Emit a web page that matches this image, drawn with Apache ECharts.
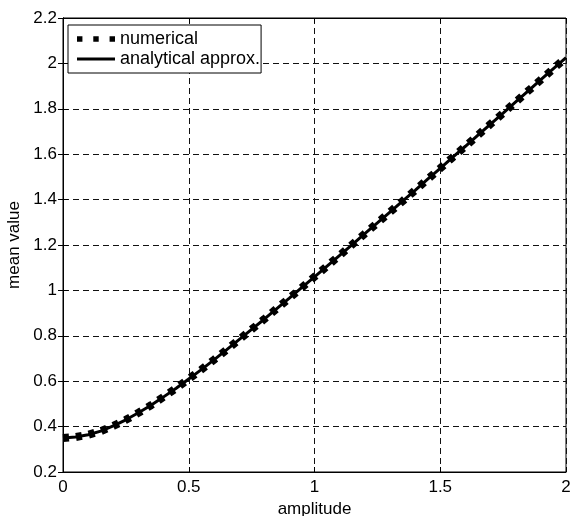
<!DOCTYPE html>
<html>
<head>
<meta charset="utf-8">
<script src="https://cdn.jsdelivr.net/npm/echarts@6/dist/echarts.min.js"></script>
<style>
  html, body { margin: 0; padding: 0; background: #fff; }
  #chart { width: 571px; height: 516px; }
</style>
</head>
<body>
<div id="chart"></div>
<script>
// amplitude samples, step 0.05
const amplitude = [
  0, 0.05, 0.1, 0.15, 0.2, 0.25, 0.3, 0.35, 0.4, 0.45,
  0.5, 0.55, 0.6, 0.65, 0.7, 0.75, 0.8, 0.85, 0.9, 0.95,
  1.0, 1.05, 1.1, 1.15, 1.2, 1.25, 1.3, 1.35, 1.4, 1.45,
  1.5, 1.55, 1.6, 1.65, 1.7, 1.75, 1.8, 1.85, 1.9, 1.95, 2.0
]
// numerical result
const numerical = [
  0.350, 0.354, 0.364, 0.380, 0.403, 0.430, 0.461, 0.494, 0.531, 0.569,
  0.610, 0.651, 0.694, 0.738, 0.783, 0.828, 0.873, 0.920, 0.966, 1.013,
  1.060, 1.107, 1.154, 1.202, 1.250, 1.297, 1.345, 1.393, 1.441, 1.490,
  1.538, 1.587, 1.635, 1.684, 1.733, 1.781, 1.830, 1.879, 1.928, 1.977, 2.025
]
// analytical approximation, overlaps numerical
const analytical = [
  0.350, 0.354, 0.364, 0.380, 0.403, 0.430, 0.461, 0.494, 0.531, 0.569,
  0.610, 0.651, 0.694, 0.738, 0.783, 0.828, 0.873, 0.920, 0.966, 1.013,
  1.060, 1.107, 1.154, 1.202, 1.250, 1.297, 1.345, 1.393, 1.441, 1.490,
  1.538, 1.587, 1.635, 1.684, 1.733, 1.781, 1.830, 1.879, 1.928, 1.977, 2.025
]
const seriesNames = ['numerical', 'analytical approx.']

const font = 'Liberation Sans, Arial, sans-serif'
const fs = 17
const pair = (ys) => amplitude.map((x, i) => [x, ys[i]])

const chart = echarts.init(document.getElementById('chart'))

const gridDash = { color: '#111', type: [6, 4], width: 1 }
const tick = { show: true, inside: true, length: 5, lineStyle: { color: '#000' } }

chart.setOption({
  animation: false,
  backgroundColor: '#fff',
  textStyle: { fontFamily: font },
  grid: {
    left: 63, right: 5, top: 18, bottom: 44,
    outerBoundsMode: 'none',
    containLabel: false,
    show: true, borderColor: '#000', borderWidth: 1,
  },
  legend: {
    orient: 'vertical',
    left: 68, top: 25,
    backgroundColor: '#fff',
    borderColor: '#000',
    borderWidth: 1,
    padding: [5, 1, 5, 9],
    itemGap: 2,
    itemWidth: 38,
    itemHeight: 18,
    symbolKeepAspect: true,
    textStyle: { fontFamily: font, fontSize: 18, color: '#000' },
    data: [
      { name: seriesNames[0], icon: 'path://M0,0h5v5h-5z M15,0h5v5h-5z M30,0h5v5h-5z' },
      { name: seriesNames[1], icon: 'path://M0,0h38v3h-38z' },
    ],
  },
  xAxis: [{
    type: 'value',
    min: 0, max: 2, interval: 0.5,
    name: 'amplitude',
    nameLocation: 'middle',
    nameGap: 27,
    nameTextStyle: { fontFamily: font, fontSize: fs, color: '#000' },
    axisLine: { show: true, lineStyle: { color: '#000' } },
    axisTick: tick,
    axisLabel: { fontFamily: font, fontSize: fs, color: '#000', margin: 7 },
    splitLine: { show: true, lineStyle: gridDash },
  }, {
    type: 'value', position: 'top',
    min: 0, max: 2, interval: 0.5,
    axisLine: { show: true, lineStyle: { color: '#000' } },
    axisTick: tick,
    axisLabel: { show: false },
    splitLine: { show: false },
  }],
  yAxis: [{
    type: 'value',
    min: 0.2, max: 2.2, interval: 0.2,
    name: 'mean value',
    nameLocation: 'middle',
    nameGap: 38,
    nameTextStyle: { fontFamily: font, fontSize: fs, color: '#000' },
    axisLine: { show: true, lineStyle: { color: '#000' } },
    axisTick: tick,
    axisLabel: {
      fontFamily: font, fontSize: fs, color: '#000', margin: 6,
      formatter: (v) => String(+v.toFixed(1)),
    },
    splitLine: { show: true, lineStyle: gridDash },
  }, {
    type: 'value', position: 'right',
    min: 0.2, max: 2.2, interval: 0.2,
    axisLine: { show: true, lineStyle: { color: '#000' } },
    axisTick: tick,
    axisLabel: { show: false },
    splitLine: { show: false },
  }],
  series: [{
    name: seriesNames[0],
    type: 'line',
    data: pair(numerical),
    showSymbol: false,
    symbol: 'none',
    itemStyle: { color: '#000' },
    lineStyle: { color: '#000', width: 8, type: [6, 7], cap: 'butt' },
    z: 3,
  }, {
    name: seriesNames[1],
    type: 'line',
    data: pair(analytical),
    showSymbol: false,
    symbol: 'none',
    itemStyle: { color: '#000' },
    lineStyle: { color: '#000', width: 3, type: 'solid' },
    z: 4,
  }],
})
</script>
</body>
</html>
